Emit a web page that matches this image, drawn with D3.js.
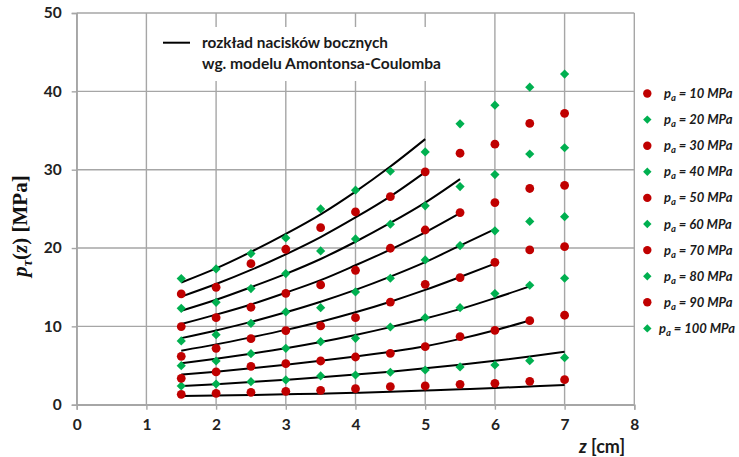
<!DOCTYPE html>
<html><head><meta charset="utf-8">
<script src="https://cdn.jsdelivr.net/npm/d3@7"></script>
<style>html,body{margin:0;padding:0;background:#fff}svg{display:block}</style>
</head><body>
<svg id="c" width="739" height="457"></svg>
<script>
// ---- data ----
const zValues = [1.5, 2, 2.5, 3, 3.5, 4, 4.5, 5, 5.5, 6, 6.5, 7];
const seriesNames = [10, 20, 30, 40, 50, 60, 70, 80, 90, 100];
const p10  = [1.32, 1.45, 1.58, 1.71, 1.84, 2.05, 2.30, 2.39, 2.60, 2.73, 2.99, 3.19];
const p20  = [2.39, 2.64, 2.94, 3.16, 3.67, 3.79, 4.14, 4.43, 4.82, 5.07, 5.62, 6.00];
const p30  = [3.37, 4.18, 4.90, 5.24, 5.58, 6.09, 6.56, 7.41, 8.69, 9.50, 10.73, 11.42];
const p40  = [4.98, 5.58, 6.51, 7.20, 8.05, 8.47, 9.92, 11.11, 12.39, 14.18, 15.25, 16.14];
const p50  = [6.18, 7.20, 8.43, 9.46, 10.05, 11.11, 13.10, 15.37, 16.22, 18.18, 19.76, 20.18];
const p60  = [8.14, 8.94, 10.39, 11.84, 12.39, 14.39, 16.14, 18.48, 20.31, 22.20, 23.40, 24.00];
const p70  = [9.97, 11.11, 12.44, 14.22, 15.29, 17.16, 19.97, 22.30, 24.52, 25.80, 27.60, 28.00];
const p80  = [12.30, 13.07, 14.82, 16.74, 19.63, 21.16, 23.04, 25.38, 27.84, 29.37, 32.00, 32.80];
const p90  = [14.14, 14.99, 18.00, 19.84, 22.60, 24.61, 26.56, 29.72, 32.10, 33.26, 35.90, 37.20];
const p100 = [16.10, 17.33, 19.29, 21.29, 24.99, 27.38, 29.80, 32.27, 35.85, 38.24, 40.53, 42.20];
// model curves (Amontons-Coulomb), starting at z = 1.5, step 0.5
const m10  = [1.10, 1.17, 1.24, 1.32, 1.41, 1.52, 1.65, 1.80, 1.96, 2.13, 2.32, 2.52];
const m20  = [2.39, 2.62, 2.89, 3.18, 3.49, 3.84, 4.22, 4.64, 5.10, 5.60, 6.16, 6.77];
const m30  = [3.84, 4.22, 4.64, 5.10, 5.60, 6.15, 6.75, 7.45, 8.40, 9.50, 10.75];
const m40  = [5.28, 5.86, 6.50, 7.20, 8.00, 8.90, 9.90, 11.00, 12.20, 13.60, 15.10];
const m50  = [6.90, 7.70, 8.60, 9.55, 10.60, 11.80, 13.15, 14.65, 16.30, 18.00];
const m60  = [8.50, 9.48, 10.57, 11.80, 13.15, 14.66, 16.35, 18.20, 20.30, 22.40];
const m70  = [10.30, 11.50, 12.80, 14.30, 15.90, 17.80, 19.80, 22.00, 24.45];
const m80  = [12.00, 13.40, 15.00, 16.70, 18.60, 20.80, 23.20, 25.80, 28.80];
const m90  = [13.80, 15.40, 17.20, 19.20, 21.40, 23.90, 26.60, 29.70];
const m100 = [15.60, 17.40, 19.50, 21.80, 24.30, 27.20, 30.40, 33.90];
const xTicks = [0, 1, 2, 3, 4, 5, 6, 7, 8];
const yTicks = [0, 10, 20, 30, 40, 50];
const lineLegend = ["rozkład nacisków bocznych", "wg. modelu Amontonsa-Coulomba"];

const points = [p10, p20, p30, p40, p50, p60, p70, p80, p90, p100];
const models = [m10, m20, m30, m40, m50, m60, m70, m80, m90, m100];

// ---- drawing ----
const RED = "#C00000", GREEN = "#00B050";
const svg = d3.select("#c");
const x = d3.scaleLinear().domain([0, 8]).range([76.7, 634.3]);
const y = d3.scaleLinear().domain([0, 50]).range([404.7, 13]);
const grid = "#a6a6a6";

// grid
svg.append("g").selectAll("line").data(xTicks).join("line")
  .attr("x1", d => x(d)).attr("x2", d => x(d)).attr("y1", y(50)).attr("y2", y(0))
  .attr("stroke", grid).attr("stroke-width", 1.4);
svg.append("g").selectAll("line").data(yTicks).join("line")
  .attr("x1", x(0)).attr("x2", x(8)).attr("y1", d => y(d)).attr("y2", d => y(d))
  .attr("stroke", grid).attr("stroke-width", 1.4);

// axes
const font = "Lato, 'Open Sans', 'Liberation Sans', sans-serif";
const xAxis = svg.append("g").attr("transform", `translate(0,${y(0)})`)
  .call(d3.axisBottom(x).tickValues(xTicks).tickFormat(d3.format("d")).tickSize(5).tickPadding(9));
const yAxis = svg.append("g").attr("transform", `translate(${x(0)},0)`)
  .call(d3.axisLeft(y).tickValues(yTicks).tickFormat(d3.format("d")).tickSize(5).tickPadding(10));
[xAxis, yAxis].forEach(a => {
  a.select(".domain").attr("stroke", grid).attr("stroke-width", 1.4);
  a.selectAll(".tick line").attr("stroke", grid).attr("stroke-width", 1.4);
  a.selectAll(".tick text").attr("fill", "#222").style("font-family", font)
    .style("font-weight", "700").style("font-size", "15.5px");
});

// legend box for the model line (covers grid)
svg.append("rect").attr("x", 155).attr("y", 27).attr("width", 290).attr("height", 54).attr("fill", "#fff");
svg.append("line").attr("x1", 163).attr("x2", 190).attr("y1", 42.7).attr("y2", 42.7)
  .attr("stroke", "#000").attr("stroke-width", 2);
const legW = [186, 239];
svg.append("g").selectAll("text").data(lineLegend).join("text")
  .attr("x", 202).attr("y", (d, i) => 47.8 + i * 21)
  .attr("textLength", (d, i) => legW[i]).attr("lengthAdjust", "spacingAndGlyphs")
  .attr("fill", "#1a1a1a").style("font-family", font).style("font-weight", "700").style("font-size", "14.5px")
  .text(d => d);

// model lines
const line = d3.line().x((d, i) => x(zValues[i])).y(d => y(d)).curve(d3.curveMonotoneX);
svg.append("g").selectAll("path").data(models).join("path")
  .attr("d", d => line(d)).attr("fill", "none").attr("stroke", "#000").attr("stroke-width", 2);

// points
const diamond = r => `M0,${-r}L${r},0L0,${r}L${-r},0Z`;
points.forEach((vals, si) => {
  const g = svg.append("g");
  const isRed = si % 2 === 0;
  if (isRed) {
    g.selectAll("circle").data(vals).join("circle")
      .attr("cx", (d, i) => x(zValues[i])).attr("cy", d => y(d)).attr("r", 4.4).attr("fill", RED);
  } else {
    g.selectAll("path").data(vals).join("path")
      .attr("transform", (d, i) => `translate(${x(zValues[i])},${y(d)})`)
      .attr("d", diamond(4.6)).attr("fill", GREEN);
  }
});

// series legend
const lg = svg.append("g");
const rowY = i => 93.5 + i * 26.1;
seriesNames.forEach((s, i) => {
  const cy = rowY(i);
  if (i % 2 === 0) lg.append("circle").attr("cx", 647.3).attr("cy", cy).attr("r", 4.2).attr("fill", RED);
  else lg.append("path").attr("transform", `translate(647.3,${cy})`).attr("d", diamond(4.2)).attr("fill", GREEN);
  const t = lg.append("text").attr("x", s >= 100 ? 659 : 664).attr("y", cy + 4.5).attr("fill", "#1a1a1a")
    .style("font-family", font).style("font-weight", "700").style("font-style", "italic").style("font-size", "13px");
  t.append("tspan").text("p");
  t.append("tspan").attr("dy", 3).style("font-size", "9.5px").text("a");
  t.append("tspan").attr("dy", -3).text(` = ${s} MPa`);
});

// axis titles
const xt = svg.append("text").attr("x", 602).attr("y", 453).attr("text-anchor", "middle").attr("fill", "#1a1a1a")
  .style("font-family", font).style("font-weight", "700").style("font-size", "18px");
xt.append("tspan").style("font-style", "italic").text("z");
xt.append("tspan").text(" [cm]");

const serif = "'Liberation Serif', 'DejaVu Serif', serif";
const yt = svg.append("text").attr("transform", "translate(27,226) rotate(-90)").attr("text-anchor", "middle")
  .attr("fill", "#111").style("font-family", serif).style("font-weight", "700").style("font-size", "21px");
yt.append("tspan").style("font-style", "italic").text("p");
yt.append("tspan").attr("dy", 5).style("font-size", "14px").style("font-style", "italic").text("τ");
yt.append("tspan").attr("dy", -5).text("(");
yt.append("tspan").style("font-style", "italic").text("z");
yt.append("tspan").text(") [MPa]");
</script>
</body></html>
